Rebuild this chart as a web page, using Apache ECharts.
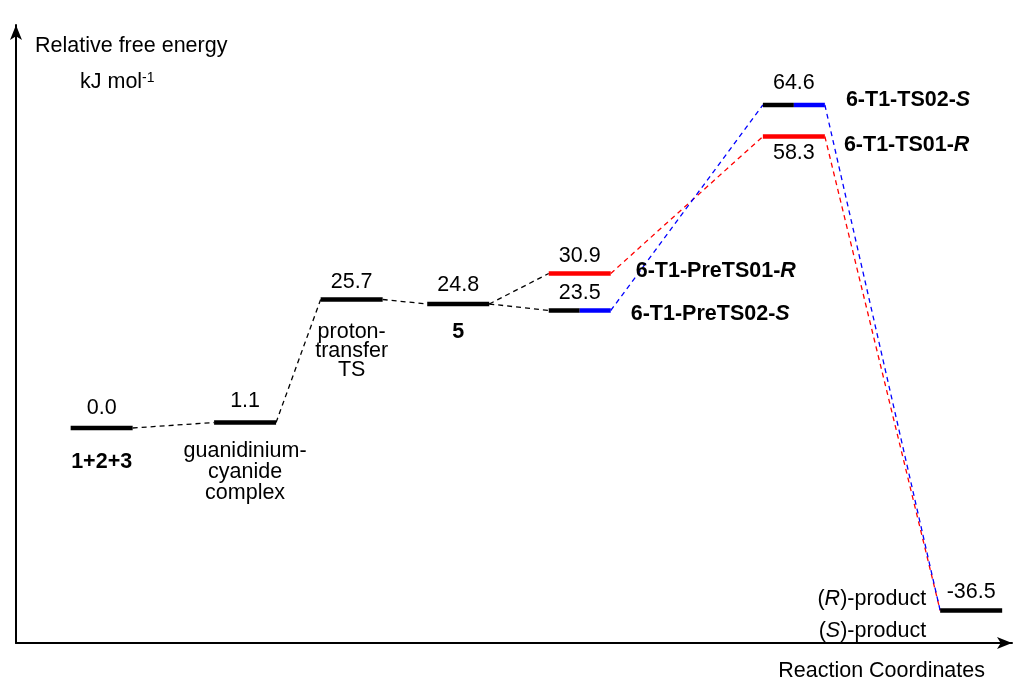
<!DOCTYPE html>
<html><head><meta charset="utf-8">
<script src="https://cdn.jsdelivr.net/npm/echarts@6/dist/echarts.min.js"></script>
<style>html,body{margin:0;padding:0;background:#fff}#c{width:1022px;height:683px}</style>
</head><body><div id="c"></div>
<script>
// ---- data ----
const stageNames = [
  '{b|1+2+3}',
  'guanidinium-\ncyanide\ncomplex',
  'proton-\ntransfer\nTS',
  '{b|5}',
  '{b|6-T1-PreTS01-}{bi|R}',
  '{b|6-T1-PreTS02-}{bi|S}',
  '{b|6-T1-TS01-}{bi|R}',
  '{b|6-T1-TS02-}{bi|S}',
  '({i|R})-product\n({i|S})-product'
];
const reactionCoord = [0.86, 2.30, 3.37, 4.44, 5.66, 5.66, 7.81, 7.81, 9.59];
const energies = [0.0, 1.1, 25.7, 24.8, 30.9, 23.5, 58.3, 64.6, -36.5];
const energyLabels = ['0.0', '1.1', '25.7', '24.8', '30.9', '23.5', '58.3', '64.6', '-36.5'];
const levelPath = ['both', 'both', 'both', 'both', 'R', 'S', 'R', 'S', 'both'];
const links = [[0, 1], [1, 2], [2, 3], [3, 4], [3, 5], [4, 6], [6, 8], [5, 7], [7, 8]];
const linkPath = ['both', 'both', 'both', 'both', 'both', 'R', 'R', 'S', 'S'];
const yTitle = 'Relative free energy';
const yUnit = 'kJ mol{s|-1}';
const xTitle = 'Reaction Coordinates';

// ---- style ----
const FONT = '"Liberation Sans", Arial, Helvetica, sans-serif';
const FS = 21.5;
const HW = 31;          // half width of an energy level in px
const pathColor = { both: '#000000', R: '#ff0000', S: '#0000ff' };
const nameLayout = [
  { anchor: 'c', dx: 0, dy: 34, align: 'center', va: 'middle', vdy: -20 },
  { anchor: 'c', dx: 0, dy: 18, align: 'center', va: 'top', lh: 21, vdy: -21 },
  { anchor: 'c', dx: 0, dy: 23, align: 'center', va: 'top', lh: 19, vdy: -17 },
  { anchor: 'c', dx: 0, dy: 28, align: 'center', va: 'middle', vdy: -19 },
  { anchor: 'r', dx: 25, dy: -2, align: 'left', va: 'middle', vdy: -17 },
  { anchor: 'r', dx: 20, dy: 4, align: 'left', va: 'middle', vdy: -17 },
  { anchor: 'r', dx: 19, dy: 9, align: 'left', va: 'middle', vdy: 17 },
  { anchor: 'r', dx: 21, dy: -5, align: 'left', va: 'middle', vdy: -22 },
  { anchor: 'l', dx: -14, dy: 5, align: 'right', va: 'middle', lh: 32, vdy: -18 }
];
const rich = {
  b: { fontWeight: 'bold', fontSize: FS, fontFamily: FONT, fill: '#000' },
  bi: { fontWeight: 'bold', fontStyle: 'italic', fontSize: FS, fontFamily: FONT, fill: '#000' },
  i: { fontStyle: 'italic', fontSize: FS, fontFamily: FONT, fill: '#000' }
};

const levelData = energies.map((e, i) => [reactionCoord[i], e, i]);
const linkData = links.map(([a, b], k) => [reactionCoord[a], energies[a], reactionCoord[b], energies[b], k]);

const chart = echarts.init(document.getElementById('c'), null, { renderer: 'canvas' });
const axisLine = { show: true, onZero: false, symbol: ['none', 'arrow'], symbolSize: [9, 15], lineStyle: { color: '#000', width: 2 } };

chart.setOption({
  animation: false,
  backgroundColor: '#fff',
  grid: { left: 16, right: 10, top: 25, bottom: 40 },
  xAxis: { type: 'value', min: 0, max: 10, axisLine, axisTick: { show: false }, axisLabel: { show: false }, splitLine: { show: false } },
  yAxis: { type: 'value', min: -43, max: 80.6, axisLine, axisTick: { show: false }, axisLabel: { show: false }, splitLine: { show: false } },
  graphic: [
    { type: 'text', left: 35, top: 35, style: { text: yTitle, font: FS + 'px ' + FONT, fill: '#000' } },
    { type: 'text', left: 80, top: 71, style: { text: yUnit, font: FS + 'px ' + FONT, fill: '#000',
      rich: { s: { fontSize: 14, fontFamily: FONT, verticalAlign: 'top', lineHeight: 22 } } } },
    { type: 'text', right: 37, top: 660, style: { text: xTitle, font: FS + 'px ' + FONT, fill: '#000' } }
  ],
  series: [
    {
      type: 'custom',
      data: linkData,
      encode: { x: [0, 2], y: [1, 3] },
      z: 2,
      renderItem(params, api) {
        const a = api.coord([api.value(0), api.value(1)]);
        const b = api.coord([api.value(2), api.value(3)]);
        const k = api.value(4);
        return {
          type: 'line',
          shape: { x1: a[0] + HW, y1: a[1], x2: b[0] - HW, y2: b[1] },
          style: { stroke: pathColor[linkPath[k]], lineWidth: 1.3, lineDash: [5, 4] }
        };
      }
    },
    {
      type: 'custom',
      data: levelData,
      encode: { x: 0, y: 1 },
      z: 3,
      renderItem(params, api) {
        const i = api.value(2);
        const c = api.coord([api.value(0), api.value(1)]);
        const children = [];
        const p = levelPath[i];
        const lw = 4.5;
        if (p === 'S') {
          children.push({ type: 'line', shape: { x1: c[0] - HW, y1: c[1], x2: c[0], y2: c[1] }, style: { stroke: '#000', lineWidth: lw } });
          children.push({ type: 'line', shape: { x1: c[0], y1: c[1], x2: c[0] + HW, y2: c[1] }, style: { stroke: pathColor.S, lineWidth: lw } });
        } else {
          children.push({ type: 'line', shape: { x1: c[0] - HW, y1: c[1], x2: c[0] + HW, y2: c[1] }, style: { stroke: pathColor[p], lineWidth: lw } });
        }
        const L = nameLayout[i];
        children.push({
          type: 'text', x: c[0], y: c[1] + L.vdy,
          style: { text: energyLabels[i], font: FS + 'px ' + FONT, fill: '#000', align: 'center', verticalAlign: 'middle' }
        });
        let nx = c[0];
        if (L.anchor === 'r') nx = c[0] + HW + L.dx;
        else if (L.anchor === 'l') nx = c[0] - HW + L.dx;
        const st = { text: stageNames[i], font: FS + 'px ' + FONT, fill: '#000', align: L.align, verticalAlign: L.va, rich };
        if (L.lh) st.lineHeight = L.lh;
        if (L.lh) {
          st.rich = {
            b: Object.assign({ lineHeight: L.lh }, rich.b),
            bi: Object.assign({ lineHeight: L.lh }, rich.bi),
            i: Object.assign({ lineHeight: L.lh }, rich.i)
          };
        }
        children.push({ type: 'text', x: nx, y: c[1] + L.dy, style: st });
        return { type: 'group', children };
      }
    }
  ]
});
</script>
</body></html>
